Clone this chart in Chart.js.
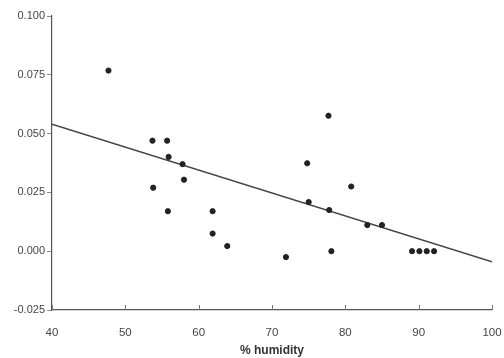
<!DOCTYPE html>
<html>
<head>
<meta charset="utf-8">
<script src="https://cdn.jsdelivr.net/npm/chart.js@4/dist/chart.umd.min.js"></script>
<style>
html,body{margin:0;padding:0;background:#fff;}
#wrap{width:504px;height:358px;position:relative;}
</style>
</head>
<body>
<div id="wrap"><canvas id="c" width="504" height="358"></canvas></div>
<script>
const humidity = [47.7, 53.7, 55.7, 55.9, 57.8, 58.0, 53.8, 55.8, 61.9, 61.9, 63.9, 71.9, 77.7, 74.8, 80.8, 75.0, 77.8, 83.0, 85.0, 78.1, 89.1, 90.1, 91.1, 92.1];
const values   = [0.0768, 0.047, 0.047, 0.0401, 0.037, 0.0304, 0.027, 0.017, 0.017, 0.0075, 0.0022, -0.0025, 0.0576, 0.0374, 0.0275, 0.0209, 0.0175, 0.0111, 0.0111, 0.0, 0.0, 0.0, 0.0, 0.0];
const fitX = [40, 100];
const fitY = [0.054, -0.0045];
const xTicks = [40, 50, 60, 70, 80, 90, 100];
const yTicks = [-0.025, 0, 0.025, 0.05, 0.075, 0.1];

const pts = humidity.map((h, i) => ({x: h, y: values[i]}));
const fit = fitX.map((h, i) => ({x: h, y: fitY[i]}));

const innerXTicks = {
  id: 'innerXTicks',
  afterDraw(chart) {
    const s = chart.scales.x, ctx = chart.ctx, y0 = s.top;
    ctx.save();
    ctx.strokeStyle = '#777';
    ctx.lineWidth = 1;
    xTicks.forEach(v => {
      const px = Math.round(s.getPixelForValue(v)) + 0.5;
      ctx.beginPath();
      ctx.moveTo(px, y0);
      ctx.lineTo(px, y0 - 5);
      ctx.stroke();
    });
    ctx.restore();
  }
};

new Chart(document.getElementById('c'), {
  type: 'scatter',
  data: {
    datasets: [
      {data: fit, showLine: true, borderColor: '#444', borderWidth: 1.5, pointRadius: 0, order: 2},
      {data: pts, backgroundColor: '#222', borderColor: '#222', pointRadius: 2.6, order: 1}
    ]
  },
  plugins: [innerXTicks],
  options: {
    responsive: false,
    animation: false,
    layout: {padding: {top: 16, right: 12, left: 0, bottom: 0}},
    plugins: {legend: {display: false}, tooltip: {enabled: false}},
    scales: {
      x: {
        type: 'linear', min: 40, max: 100,
        afterBuildTicks: s => { s.ticks = xTicks.map(v => ({value: v})); },
        afterFit: s => { s.height = 48; s.paddingLeft = 0; s.paddingRight = 0; },
        grid: {display: false},
        border: {display: true, color: '#555', width: 1.2},
        ticks: {color: '#444', font: {family: 'Arial, Liberation Sans', size: 11.5}, padding: 8, autoSkip: false, maxRotation: 0},
        title: {display: true, text: '% humidity', color: '#333', font: {family: 'Arial, Liberation Sans', size: 12, weight: 'bold'}, padding: {top: 4, bottom: 0}}
      },
      y: {
        type: 'linear', min: -0.025, max: 0.1,
        afterBuildTicks: s => { s.ticks = yTicks.map(v => ({value: v})); },
        afterFit: s => { s.width = 52; s.paddingTop = 0; s.paddingBottom = 0; },
        grid: {display: true, drawOnChartArea: false, drawTicks: true, tickLength: 5, color: '#888'},
        border: {display: true, color: '#555', width: 1.2},
        ticks: {color: '#444', font: {family: 'Arial, Liberation Sans', size: 11}, padding: 2,
          callback: v => v.toFixed(3)}
      }
    }
  }
});
</script>
</body>
</html>
